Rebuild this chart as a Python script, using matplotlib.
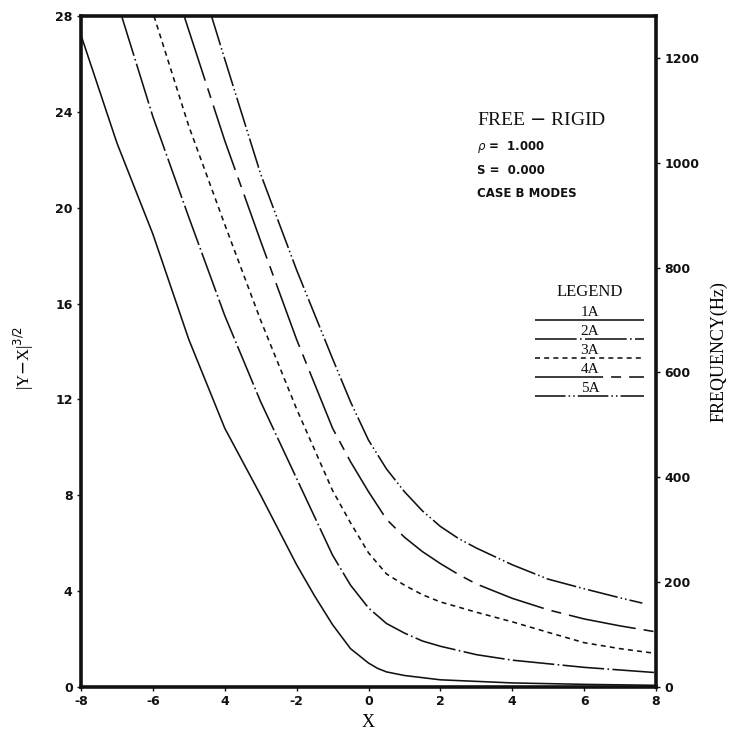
import numpy as np
import matplotlib.pyplot as plt

plt.rcParams['lines.scale_dashes'] = False

# ========= Mode curves, |Y-X|^(3/2) against X =========
x_1a = [-8, -7, -6, -5, -4, -3, -2, -1.5, -1, -0.5, 0, 0.25, 0.5, 1, 2, 4, 6, 8]
y_1a = [27.2, 22.7, 18.9, 14.5, 10.8, 8.0, 5.1, 3.8, 2.6, 1.6, 1.0, 0.78, 0.63, 0.48, 0.3, 0.17, 0.11, 0.07]

x_2a = [-6.87, -6, -5, -4, -3, -2, -1, -0.5, 0, 0.5, 1, 1.5, 2, 3, 4, 6, 8]
y_2a = [28.0, 23.8, 19.6, 15.5, 11.9, 8.7, 5.5, 4.25, 3.3, 2.65, 2.25, 1.92, 1.7, 1.35, 1.12, 0.82, 0.6]

x_3a = [-5.97, -5, -4, -3, -2, -1, -0.5, 0, 0.5, 1, 1.5, 2, 3, 4, 5, 6, 7, 8]
y_3a = [28.0, 23.4, 19.3, 15.3, 11.6, 8.2, 6.85, 5.6, 4.72, 4.25, 3.85, 3.55, 3.12, 2.72, 2.28, 1.85, 1.6, 1.4]

x_4a = [-5.13, -5, -4, -3, -2, -1, -0.5, 0, 0.5, 1, 1.5, 2, 2.5, 3, 4, 5, 6, 7, 8]
y_4a = [28.0, 27.4, 22.8, 18.6, 14.5, 10.8, 9.4, 8.15, 7.0, 6.25, 5.65, 5.15, 4.7, 4.3, 3.7, 3.22, 2.84, 2.55, 2.3]

x_5a = [-4.37, -4, -3, -2, -1, -0.5, 0, 0.5, 1, 1.5, 2, 2.5, 3, 4, 5, 6, 7, 7.62]
y_5a = [28.0, 26.2, 21.4, 17.4, 13.7, 11.9, 10.3, 9.1, 8.15, 7.35, 6.7, 6.2, 5.8, 5.1, 4.5, 4.1, 3.72, 3.5]

mode_names = ['1A', '2A', '3A', '4A', '5A']
info_lines = [r'$\rho$ =  1.000', 'S =  0.000', 'CASE B MODES']

x_ticks = [-8, -6, -4, -2, 0, 2, 4, 6, 8]
x_tick_labels = ['-8', '-6', '4', '-2', '0', '2', '4', '6', '8']
y_ticks = [0, 4, 8, 12, 16, 20, 24, 28]
freq_ticks = [0, 200, 400, 600, 800, 1000, 1200]

# dash patterns in points (on, off, ...)
dashes = {
    '1A': None,
    '2A': (30, 2.4, 1.2, 2.4),
    '3A': (3.6, 3.0),
    '4A': (49, 5.8, 7.2, 5.8),
    '5A': (22, 2.2, 1.1, 2.2, 1.1, 2.2),
}

ink = '#111111'
serif = ['Liberation Serif', 'DejaVu Serif']

fig = plt.figure(figsize=(7.3, 7.35), dpi=100)
ax = fig.add_axes([81 / 730, 1 - 687 / 735, 575 / 730, 671 / 735])

series = [(x_1a, y_1a), (x_2a, y_2a), (x_3a, y_3a), (x_4a, y_4a), (x_5a, y_5a)]
for name, (xs, ys) in zip(mode_names, series):
    line, = ax.plot(xs, ys, color=ink, lw=1.15, solid_capstyle='butt',
                    solid_joinstyle='round')
    if dashes[name] is not None:
        line.set_dashes(dashes[name])

ax.set_xlim(-8, 8)
ax.set_ylim(0, 28)
ax.set_xticks(x_ticks)
ax.set_xticklabels(x_tick_labels)
ax.set_yticks(y_ticks)
for s in ax.spines.values():
    s.set_linewidth(2.6)
    s.set_color(ink)
ax.tick_params(axis='both', direction='out', length=3, width=1, colors=ink,
               labelsize=9, pad=3)
for lab in ax.get_xticklabels() + ax.get_yticklabels():
    lab.set_fontweight('bold')

ax.set_xlabel('X', family=serif, fontsize=13, labelpad=4)
ax.set_ylabel(r'|Y$-$X|$^{3/2}$', family=serif, fontsize=12)
ax.yaxis.set_label_coords(-0.078, 0.49)

# frequency scale on the right
ax2 = ax.twinx()
ax2.set_ylim(0, 1280)
ax2.set_yticks(freq_ticks)
ax2.tick_params(axis='y', direction='out', length=3, width=1, colors=ink,
                labelsize=9, pad=3)
for lab in ax2.get_yticklabels():
    lab.set_fontweight('bold')
for s in ax2.spines.values():
    s.set_visible(False)
ax2.set_ylabel('FREQUENCY(Hz)', family=serif, fontsize=13, labelpad=8)

# case description
ax.text(0.688, 0.845, 'FREE $-$ RIGID', transform=ax.transAxes,
        family=serif, fontsize=14, color=ink, va='center')
for i, t in enumerate(info_lines):
    ax.text(0.688, 0.805 - i * 0.035, t, transform=ax.transAxes,
            fontsize=8.5, fontweight='bold', color=ink, va='center')

# hand-drawn legend: label sitting on top of its line sample
ax.text(0.885, 0.588, 'LEGEND', transform=ax.transAxes, family=serif,
        fontsize=12, color=ink, ha='center', va='center')
for i, name in enumerate(mode_names):
    yl = 0.547 - i * 0.0285
    seg, = ax.plot([0.79, 0.979], [yl, yl], transform=ax.transAxes,
                   color=ink, lw=1.15, solid_capstyle='butt')
    if dashes[name] is not None:
        seg.set_dashes(dashes[name])
    ax.text(0.885, yl + 0.002, name, transform=ax.transAxes, family=serif,
            fontsize=11, color=ink, ha='center', va='bottom')

fig.savefig('out.png', dpi=100)
